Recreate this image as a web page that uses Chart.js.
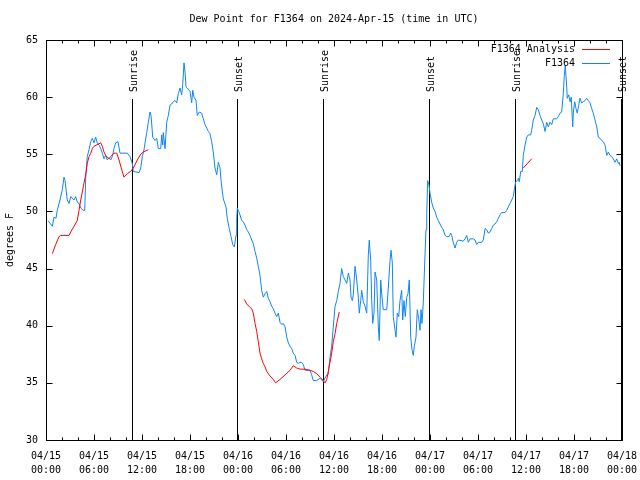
<!DOCTYPE html>
<html>
<head>
<meta charset="utf-8">
<script src="https://cdn.jsdelivr.net/npm/chart.js@4/dist/chart.umd.min.js"></script>
<style>
  html, body { margin: 0; padding: 0; background: #fff; }
</style>
</head>
<body>
<canvas id="dew" width="640" height="480"></canvas>
<script>
const FONT = "'DejaVu Sans Mono', 'Liberation Mono', monospace";
const FONT_STR = "10px " + FONT;

const titleText = "Dew Point for F1364 on 2024-Apr-15 (time in UTC)";
const yTitle = "degrees F";

// x axis = hours since 04/15 00:00 UTC
const xTickDates = ["04/15","04/15","04/15","04/15","04/16","04/16","04/16","04/16","04/17","04/17","04/17","04/17","04/18"];
const xTickTimes = ["00:00","06:00","12:00","18:00","00:00","06:00","12:00","18:00","00:00","06:00","12:00","18:00","00:00"];

const sunHours  = [10.75, 23.875, 34.625, 47.875, 58.625, 71.875];
const sunLabels = ["Sunrise", "Sunset", "Sunrise", "Sunset", "Sunrise", "Sunset"];

// F1364 observations
const obsHours = [
  0.25, 0.79, 1.0, 1.25, 1.41, 1.75, 2.04, 2.25, 2.38, 2.66,
  2.88, 3.09, 3.5, 3.71, 3.91, 4.13, 4.34, 4.63, 4.84, 4.96,
  5.16, 5.38, 5.59, 5.79, 6.0, 6.21, 6.41, 6.63, 6.84, 7.04,
  7.25, 7.46, 7.66, 7.88, 8.09, 8.29, 8.5, 8.71, 9.0, 9.25,
  10.16, 10.5, 10.79, 10.91, 11.63, 11.84, 12.04, 12.25, 12.38, 12.59,
  12.79, 13.0, 13.13, 13.34, 13.63, 13.84, 14.04, 14.34, 14.46, 14.59,
  14.66, 14.88, 15.09, 15.29, 15.5, 15.71, 15.91, 16.13, 16.34, 16.54,
  16.75, 16.96, 17.09, 17.25, 17.38, 17.5, 17.66, 18.0, 18.21, 18.34,
  18.5, 18.75, 18.91, 19.16, 19.46, 19.66, 19.88, 20.09, 20.29, 20.5,
  20.71, 20.91, 21.13, 21.34, 21.54, 21.75, 21.88, 22.16, 22.5, 22.66,
  22.91, 23.13, 23.34, 23.54, 23.75, 23.84, 23.92, 24.04, 24.25, 24.46,
  24.66, 24.88, 25.09, 25.29, 25.5, 25.71, 25.91, 26.13, 26.34, 26.54,
  26.75, 26.96, 27.16, 27.38, 27.59, 27.79, 28.0, 28.21, 28.41, 28.63,
  28.84, 29.04, 29.25, 29.46, 29.66, 29.88, 30.09, 30.29, 30.5, 30.71,
  30.91, 31.13, 31.34, 31.54, 31.75, 31.96, 32.16, 32.38, 33.0, 33.21,
  33.41, 33.84, 34.25, 34.66, 35.09, 35.25, 35.5, 35.71, 35.91, 36.13,
  36.34, 36.54, 36.75, 36.96, 37.16, 37.38, 37.59, 37.79, 38.0, 38.13,
  38.29, 38.41, 38.63, 38.84, 39.04, 39.16, 39.34, 39.46, 39.66, 39.88,
  40.09, 40.29, 40.41, 40.59, 40.71, 40.84, 41.0, 41.13, 41.34, 41.54,
  41.66, 41.84, 41.96, 42.16, 42.59, 42.79, 43.0, 43.13, 43.29, 43.41,
  43.63, 43.75, 43.91, 44.09, 44.25, 44.46, 44.59, 44.75, 44.91, 45.09,
  45.25, 45.41, 45.59, 45.75, 45.91, 46.04, 46.25, 46.41, 46.59, 46.75,
  46.88, 47.0, 47.16, 47.38, 47.5, 47.59, 47.71, 47.88, 48.0, 48.21,
  48.41, 48.63, 48.84, 49.04, 49.25, 49.46, 49.66, 49.88, 50.09, 50.38,
  50.59, 50.71, 50.91, 51.13, 51.34, 51.54, 52.16, 52.38, 52.59, 52.79,
  53.0, 53.41, 53.63, 53.84, 54.04, 54.46, 54.66, 54.88, 55.09, 55.29,
  55.5, 55.71, 55.91, 56.13, 56.34, 56.54, 56.75, 56.96, 57.38, 57.59,
  57.79, 58.0, 58.21, 58.41, 58.54, 58.71, 58.96, 59.04, 59.16, 59.34,
  59.54, 59.66, 59.88, 60.09, 60.29, 60.59, 60.71, 60.91, 61.13, 61.34,
  61.54, 61.75, 61.96, 62.16, 62.38, 62.59, 62.79, 63.0, 63.21, 63.41,
  63.84, 64.04, 64.25, 64.46, 64.66, 64.79, 64.91, 65.09, 65.16, 65.34,
  65.5, 65.66, 65.84, 65.91, 66.09, 66.25, 66.41, 66.59, 66.75, 66.96,
  67.16, 67.38, 67.59, 67.79, 68.0, 68.21, 68.41, 68.63, 68.84, 69.04,
  69.25, 69.46, 69.66, 69.88, 70.09, 70.29, 70.5, 70.71, 70.91, 71.13,
  71.34, 71.54, 71.66, 71.75
];
const obsDew = [
  49.2, 48.7, 49.5, 49.4, 50.1, 51.0, 51.9, 53.0, 52.7, 51.0,
  50.7, 51.3, 51.0, 51.3, 50.8, 50.7, 50.3, 50.1, 50.1, 52.9,
  54.8, 55.4, 56.1, 56.4, 56.0, 56.5, 56.0, 55.8, 55.5, 55.1,
  54.6, 54.9, 54.5, 54.7, 54.5, 54.8, 55.5, 56.0, 56.1, 55.1,
  55.1, 54.8, 54.2, 53.5, 53.4, 53.8, 54.8, 55.4, 56.0, 56.9,
  57.8, 58.7, 58.4, 56.5, 56.2, 56.4, 55.5, 55.5, 56.7, 55.8,
  56.9, 55.5, 57.8, 58.4, 59.3, 59.4, 59.6, 59.7, 59.5, 60.3,
  60.8, 60.2, 61.1, 63.0, 62.2, 60.9, 60.8, 60.5, 59.5, 60.6,
  60.0, 59.7, 58.4, 58.7, 58.6, 58.1, 57.6, 57.3, 57.0, 56.8,
  56.1, 55.2, 53.8, 53.2, 54.3, 53.8, 52.7, 51.1, 50.4, 49.4,
  48.5, 47.8, 47.1, 46.9, 47.9, 49.4, 50.3, 50.1, 49.7, 49.2,
  49.1, 48.8, 48.4, 48.2, 47.9, 47.5, 47.2, 46.5, 45.9, 45.2,
  44.4, 43.1, 42.5, 42.8, 43.0, 42.4, 42.1, 41.7, 41.5, 41.1,
  40.8, 41.1, 40.3, 40.1, 40.2, 39.9, 39.0, 38.5, 38.2, 38.0,
  37.6, 37.4, 36.8, 36.7, 36.8, 36.8, 36.6, 36.1, 36.1, 35.7,
  35.2, 35.2, 35.4, 35.1, 35.7, 35.7, 37.2, 38.2, 39.9, 41.7,
  42.2, 43.0, 43.7, 45.0, 44.3, 44.0, 43.7, 44.6, 44.0, 42.5,
  42.2, 42.7, 45.2, 44.0, 42.5, 41.1, 42.2, 43.1, 42.1, 41.7,
  41.1, 46.2, 47.5, 45.7, 42.2, 40.2, 41.1, 44.7, 44.0, 39.9,
  38.7, 44.0, 42.8, 41.4, 41.4, 43.3, 45.7, 46.6, 45.5, 40.8,
  39.6, 39.0, 41.1, 40.8, 42.2, 43.1, 40.5, 42.2, 40.8, 42.5,
  42.8, 44.0, 39.0, 37.9, 37.4, 38.2, 39.0, 41.4, 40.6, 39.6,
  41.4, 40.2, 42.0, 46.3, 48.4, 49.8, 52.7, 52.3, 51.6, 50.8,
  50.3, 50.0, 49.5, 49.2, 48.9, 48.6, 48.4, 47.9, 47.8, 47.8,
  48.1, 47.9, 47.3, 46.8, 47.3, 47.5, 47.4, 47.6, 47.9, 47.3,
  47.6, 47.6, 47.5, 47.1, 47.3, 47.3, 47.5, 48.5, 48.4, 48.1,
  48.2, 48.5, 48.8, 48.9, 49.1, 49.4, 49.7, 49.9, 49.9, 50.1,
  50.4, 50.7, 51.0, 51.3, 51.9, 52.6, 52.7, 52.9, 52.6, 53.5,
  53.5, 54.9, 55.8, 56.5, 56.7, 56.7, 57.1, 58.0, 58.4, 59.1,
  58.9, 58.4, 58.0, 57.7, 57.0, 57.8, 57.4, 57.8, 57.6, 58.1,
  58.1, 58.3, 58.6, 58.7, 60.3, 61.9, 62.8, 60.9, 59.9, 60.2,
  59.6, 60.0, 57.4, 58.6, 59.6, 59.0, 58.6, 59.3, 59.9, 59.5,
  59.6, 59.7, 59.9, 59.7, 59.5, 59.0, 58.6, 58.0, 57.4, 56.5,
  56.4, 56.2, 56.1, 55.8, 54.9, 55.2, 54.9, 54.8, 54.6, 54.3,
  54.6, 54.2, 54.3, 54.0
];

// F1364 Analysis (null = no analysis)
const anaHours = [
  0.79, 1.21, 1.63, 1.84, 2.88, 3.09, 3.5, 3.91, 4.13, 4.34,
  4.54, 4.75, 4.96, 5.16, 5.38, 5.59, 5.79, 6.0, 6.84, 7.04,
  7.25, 7.46, 7.88, 8.09, 8.5, 8.84, 9.13, 9.41, 9.75, 10.16,
  10.59, 11.0, 11.41, 11.84, 12.16, 12.79,
  18.0,
  24.79, 25.09, 25.5, 25.71, 25.91, 26.13, 26.34, 26.54, 26.75, 26.96,
  27.16, 27.38, 27.59, 27.79, 28.0, 28.41, 28.7, 29.25, 29.88, 30.5,
  30.91, 31.34, 31.75, 32.38, 33.0, 33.41, 33.84, 34.25, 34.66, 34.88,
  35.09, 35.29, 35.5, 35.71, 35.91, 36.13, 36.34, 36.66,
  48.0,
  59.66, 60.71
];
const anaDew = [
  46.3, 47.1, 47.8, 47.9, 47.9, 48.2, 48.7, 49.2, 50.1, 51.0,
  51.7, 52.5, 53.2, 54.2, 54.8, 55.1, 55.5, 55.7, 56.0, 55.7,
  55.2, 54.9, 54.6, 54.8, 55.1, 55.1, 54.5, 53.8, 53.0, 53.3,
  53.5, 53.9, 54.5, 55.0, 55.2, 55.4,
  null,
  42.3, 41.9, 41.6, 41.5, 41.1, 40.2, 39.5, 38.6, 37.6, 37.1,
  36.7, 36.4, 36.0, 35.8, 35.6, 35.3, 35.0, 35.3, 35.7, 36.1,
  36.5, 36.3, 36.2, 36.2, 36.1, 36.0, 35.8, 35.5, 35.2, 35.0,
  35.3, 36.0, 36.8, 37.6, 38.6, 39.3, 40.2, 41.2,
  null,
  53.8, 54.6
];

const toPoints = (xs, ys) => xs.map((h, i) => ({ x: h, y: ys[i] }));

const RED = "#ff0000";
const BLUE = "#0f85f5";

const gnuplotFrame = {
  id: "gnuplotFrame",
  beforeDatasetsDraw(chart) {
    const { ctx, chartArea: a, scales: { x, y } } = chart;
    ctx.save();
    ctx.strokeStyle = "#000";
    ctx.lineWidth = 1;
    ctx.fillStyle = "#000";
    ctx.font = FONT_STR;
    const top = Math.round(y.getPixelForValue(59.8));
    sunHours.forEach((h, i) => {
      const px = Math.round(x.getPixelForValue(h)) + 0.5;
      ctx.beginPath();
      ctx.moveTo(px, top);
      ctx.lineTo(px, a.bottom);
      ctx.stroke();
      ctx.save();
      ctx.translate(px + 2, top - 7);
      ctx.rotate(-Math.PI / 2);
      ctx.textAlign = "left";
      ctx.textBaseline = "middle";
      ctx.fillText(sunLabels[i], 0, 0);
      ctx.restore();
    });
    ctx.restore();
  },
  afterDatasetsDraw(chart) {
    const { ctx, chartArea: a, scales: { x, y } } = chart;
    ctx.save();
    ctx.strokeStyle = "#000";
    ctx.lineWidth = 1;
    const L = Math.round(a.left) + 0.5, R = Math.round(a.right) + 0.5;
    const T = Math.round(a.top) + 0.5, B = Math.round(a.bottom) + 0.5;
    ctx.strokeRect(L, T, R - L, B - T);

    ctx.beginPath();
    // x ticks, major every 6 h, minor every 2 h
    for (let h = 0; h <= 72; h += 2) {
      const px = Math.round(x.getPixelForValue(h)) + 0.5;
      const len = h % 6 === 0 ? 6 : 3;
      ctx.moveTo(px, B); ctx.lineTo(px, B - len);
      ctx.moveTo(px, T); ctx.lineTo(px, T + len);
    }
    // y ticks
    for (let v = 30; v <= 65; v += 5) {
      const py = Math.round(y.getPixelForValue(v)) + 0.5;
      ctx.moveTo(L, py); ctx.lineTo(L + 6, py);
      ctx.moveTo(R, py); ctx.lineTo(R - 6, py);
    }
    ctx.stroke();

    ctx.fillStyle = "#000";
    ctx.font = FONT_STR;
    ctx.textBaseline = "middle";

    // title
    ctx.textAlign = "center";
    ctx.fillText(titleText, (a.left + a.right) / 2, 19);

    // y axis title
    ctx.save();
    ctx.translate(10, (a.top + a.bottom) / 2);
    ctx.rotate(-Math.PI / 2);
    ctx.fillText(yTitle, 0, 0);
    ctx.restore();

    // legend
    const items = [["F1364 Analysis", RED, 49.5], ["F1364", BLUE, 63.5]];
    ctx.textAlign = "right";
    items.forEach(([label, color, ly]) => {
      ctx.fillStyle = "#000";
      ctx.fillText(label, 575, ly);
      ctx.strokeStyle = color;
      ctx.beginPath();
      ctx.moveTo(582, Math.floor(ly) + 0.5);
      ctx.lineTo(610, Math.floor(ly) + 0.5);
      ctx.stroke();
    });
    ctx.restore();
  }
};

new Chart(document.getElementById("dew"), {
  type: "line",
  data: {
    datasets: [
      {
        label: "F1364 Analysis",
        data: toPoints(anaHours, anaDew),
        borderColor: RED,
        borderWidth: 1,
        pointRadius: 0,
        spanGaps: false,
        tension: 0
      },
      {
        label: "F1364",
        data: toPoints(obsHours, obsDew),
        borderColor: BLUE,
        borderWidth: 1,
        pointRadius: 0,
        tension: 0
      }
    ]
  },
  options: {
    responsive: false,
    animation: false,
    devicePixelRatio: 1,
    layout: { padding: { top: 40, right: 18, left: 0, bottom: 0 } },
    plugins: {
      legend: { display: false },
      title: { display: false },
      tooltip: { enabled: false }
    },
    scales: {
      x: {
        type: "linear",
        min: 0,
        max: 72,
        grid: { display: false, drawTicks: false },
        border: { display: false },
        ticks: {
          stepSize: 6,
          autoSkip: false,
          maxRotation: 0,
          padding: 9,
          color: "#000",
          font: { family: FONT, size: 10, lineHeight: 1.4 },
          callback: (v) => {
            const i = Math.round(v / 6);
            return [xTickDates[i], xTickTimes[i]];
          }
        },
        afterFit: (s) => { s.height = 40; s.paddingLeft = 0; s.paddingRight = 0; }
      },
      y: {
        min: 30,
        max: 65,
        grid: { display: false, drawTicks: false },
        border: { display: false },
        ticks: {
          stepSize: 5,
          padding: 8,
          color: "#000",
          font: { family: FONT, size: 10 }
        },
        afterFit: (s) => { s.width = 46; s.paddingTop = 0; s.paddingBottom = 0; }
      }
    }
  },
  plugins: [gnuplotFrame]
});
</script>
</body>
</html>
